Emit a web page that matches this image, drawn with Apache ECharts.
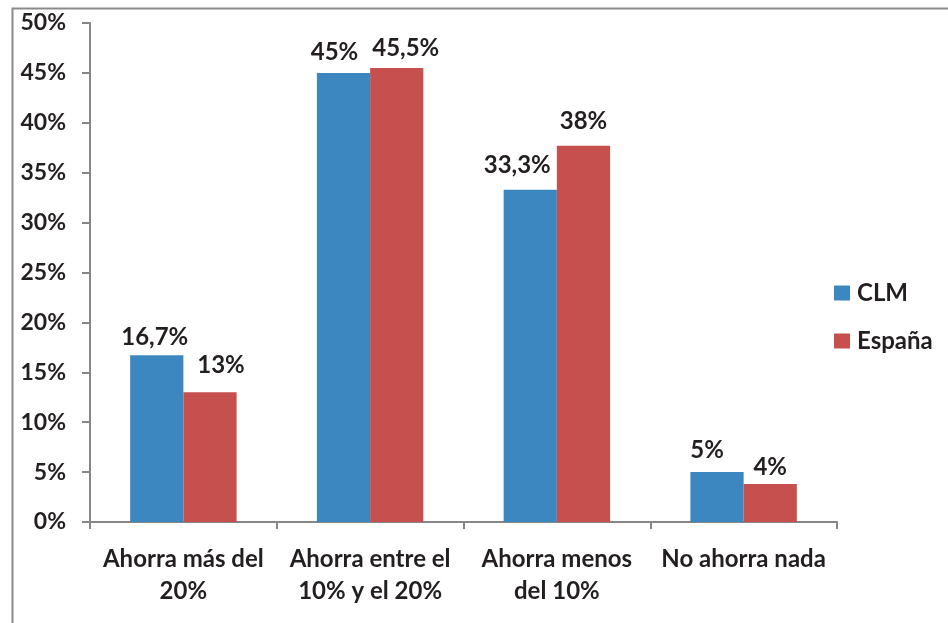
<!DOCTYPE html>
<html>
<head>
<meta charset="utf-8">
<script src="https://cdn.jsdelivr.net/npm/echarts@6/dist/echarts.min.js"></script>
<style>html,body{margin:0;padding:0;background:#fff;}#c{width:948px;height:623px;}</style>
</head>
<body>
<div id="c"></div>
<script>
var categories = ['Ahorra más del\n20%', 'Ahorra entre el\n10% y el 20%', 'Ahorra menos\ndel 10%', 'No ahorra nada'];
var seriesNames = ['CLM', 'España'];
var clmValues = [16.7, 45, 33.3, 5];
var espValues = [13, 45.5, 37.7, 3.8];
var clmLabels = ['16,7%', '45%', '33,3%', '5%'];
var espLabels = ['13%', '45,5%', '38%', '4%'];
var yTicks = [0, 5, 10, 15, 20, 25, 30, 35, 40, 45, 50];

var FONT = 'Lato';
var TXT = '#231f20';
// label nudges (style only), mimicking the source's auto-placement
var clmNudge = [[-2, 0], [-9, -3], [-13, -6], [-10, -4]];
var espNudge = [[11, -9], [9, -2], [0, -6], [0, 1]];

function buildData(vals, labels, nudge) {
  return vals.map(function (v, i) {
    return {
      value: v,
      label: {
        show: true, position: 'top', distance: 6,
        offset: nudge[i],
        fontFamily: FONT, fontWeight: 'bold', fontSize: 24, color: TXT,
        formatter: labels[i]
      }
    };
  });
}

var chart = echarts.init(document.getElementById('c'), null, {renderer: 'canvas'});
chart.setOption({
  animation: false,
  backgroundColor: '#fff',
  graphic: [{
    type: 'rect', left: 10, top: 6, silent: true,
    shape: {width: 1000, height: 1000},
    style: {fill: 'none', stroke: '#8a8a8a', lineWidth: 2}
  }],
  grid: {left: 90, right: 111, top: 23, bottom: 101, containLabel: false},
  legend: {
    orient: 'vertical', left: 834, top: 281, itemGap: 24, padding: 0,
    itemWidth: 16, itemHeight: 15, icon: 'rect',
    textStyle: {fontFamily: FONT, fontWeight: 'bold', fontSize: 24, color: TXT, padding: [0, 0, 0, 2]},
    data: seriesNames
  },
  xAxis: {
    type: 'category', data: categories,
    axisLine: {lineStyle: {color: '#868686', width: 2}},
    axisTick: {show: true, length: 7, lineStyle: {color: '#868686', width: 2}},
    axisLabel: {fontFamily: FONT, fontWeight: 'bold', fontSize: 24, color: TXT, margin: 21, lineHeight: 32, interval: 0}
  },
  yAxis: {
    type: 'value', min: yTicks[0], max: yTicks[yTicks.length - 1], interval: 5,
    splitLine: {show: false},
    axisLine: {show: true, lineStyle: {color: '#868686', width: 2}},
    axisTick: {show: true, length: 8, lineStyle: {color: '#868686', width: 2}},
    axisLabel: {fontFamily: FONT, fontWeight: 'bold', fontSize: 23, color: TXT, margin: 24,
      formatter: function (v) { return v + '%'; }}
  },
  series: [
    {name: seriesNames[0], type: 'bar', data: buildData(clmValues, clmLabels, clmNudge),
     barGap: '0%', barCategoryGap: '43%', itemStyle: {color: '#3d87c1'}},
    {name: seriesNames[1], type: 'bar', data: buildData(espValues, espLabels, espNudge),
     itemStyle: {color: '#c5504e'}}
  ]
});
</script>
</body>
</html>
